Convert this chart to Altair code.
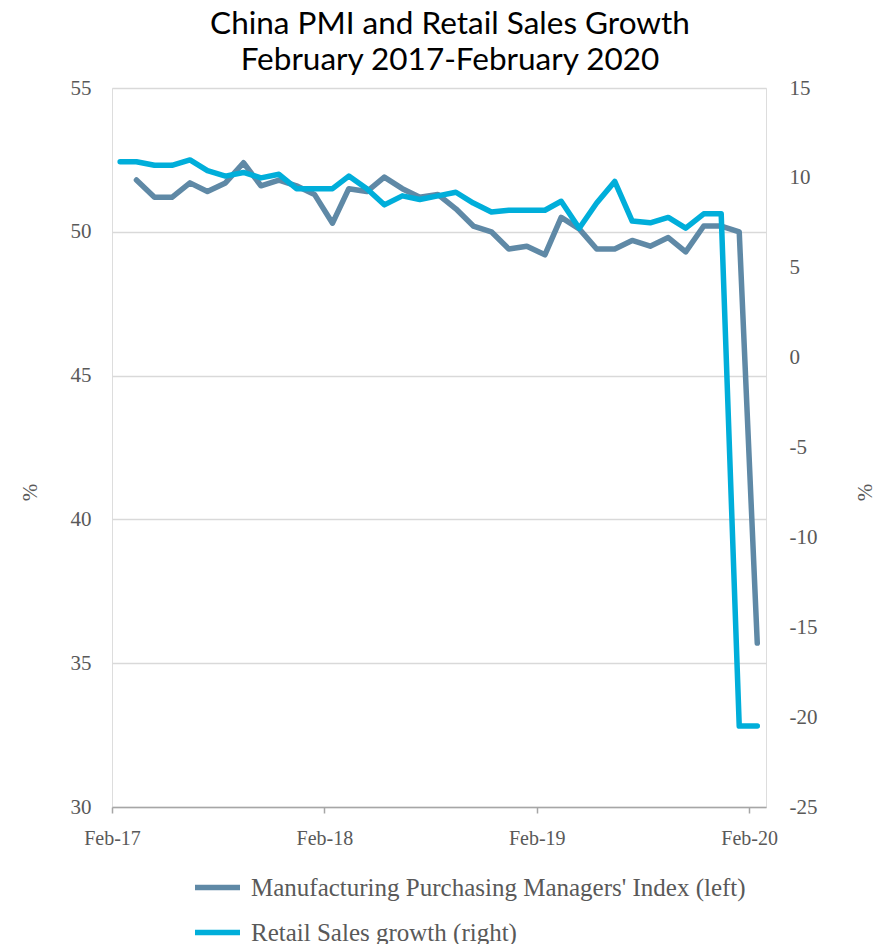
import altair as alt
import pandas as pd

# Monthly observations, Feb 2017 .. Feb 2020 (plotted mid-month)
months = [f"{y}-{m:02d}-15T00:00:00" for y in (2017, 2018, 2019, 2020) for m in range(1, 13)
          if (y, m) >= (2017, 2) and (y, m) <= (2020, 2)]

pmi = [None, 51.8, 51.2, 51.2, 51.7, 51.4, 51.7, 52.4, 51.6, 51.8, 51.6,
       51.3, 50.3, 51.5, 51.4, 51.9, 51.5, 51.2, 51.3, 50.8, 50.2, 50.0, 49.4,
       49.5, 49.2, 50.5, 50.1, 49.4, 49.4, 49.7, 49.5, 49.8, 49.3, 50.2, 50.2,
       50.0, 35.7]

retail = [10.9, 10.9, 10.7, 10.7, 11.0, 10.4, 10.1, 10.3, 10.0, 10.2, 9.4,
          9.4, 9.4, 10.1, 9.4, 8.5, 9.0, 8.8, 9.0, 9.2, 8.6, 8.1, 8.2,
          8.2, 8.2, 8.7, 7.2, 8.6, 9.8, 7.6, 7.5, 7.8, 7.2, 8.0, 8.0,
          -20.5, -20.5]

series_names = ["Manufacturing Purchasing Managers' Index (left)", "Retail Sales growth (right)"]
colors = ["#5F89A6", "#00AEDA"]
left_ticks = [30, 35, 40, 45, 50, 55]
right_ticks = [-25, -20, -15, -10, -5, 0, 5, 10, 15]
title_lines = ["China PMI and Retail Sales Growth", "February 2017-February 2020"]

rows = []
for d, p, r in zip(months, pmi, retail):
    if p is not None:
        rows.append({"date": d, "series": series_names[0], "side": "left", "value": p})
    rows.append({"date": d, "series": series_names[1], "side": "right", "value": r})
df = pd.DataFrame(rows)

SERIF = "Liberation Serif"
GRAY = "#595959"

x_enc = alt.X(
    "date:T",
    scale=alt.Scale(domain=[alt.DateTime(year=2017, month=2, date=1),
                            alt.DateTime(year=2020, month=3, date=1)]),
    axis=alt.Axis(
        values=[alt.DateTime(year=y, month=2, date=1) for y in (2017, 2018, 2019, 2020)],
        format="%b-%y", title=None, grid=False,
        domainColor="#A6A6A6", domainWidth=1.5, tickColor="#A6A6A6", tickWidth=1.5,
        tickSize=6, labelFont=SERIF, labelFontSize=20, labelColor=GRAY,
        labelPadding=15, labelFlush=False, labelOverlap=False,
    ),
)

color_enc = alt.Color(
    "series:N",
    scale=alt.Scale(domain=series_names, range=colors),
    legend=alt.Legend(
        title=None, orient="none", legendX=80, legendY=774, direction="vertical",
        symbolType="stroke", symbolStrokeWidth=5.5, symbolSize=2025,
        labelFont=SERIF, labelFontSize=25, labelColor=GRAY, labelOffset=8,
        labelLimit=800, rowPadding=6,
    ),
)

line_kw = dict(strokeWidth=5.5, strokeCap="round", strokeJoin="round")

neg_label = "datum.value < 0 ? '-' + abs(datum.value) : '' + datum.value"

left = alt.Chart(df).transform_filter(alt.datum.side == "left").mark_line(**line_kw).encode(
    x=x_enc,
    y=alt.Y("value:Q", scale=alt.Scale(domain=[30, 55], nice=False, zero=False),
            axis=alt.Axis(values=left_ticks, title="%", orient="left", grid=True,
                          gridColor="#D9D9D9", gridWidth=1.5, domain=False, ticks=False,
                          labelFont=SERIF, labelFontSize=21, labelColor=GRAY, labelPadding=21,
                          titleFont=SERIF, titleFontSize=21, titleColor=GRAY,
                          titleFontWeight="normal", titleAngle=270, titleX=-82, titleY=404,
                          titleAlign="center", titleBaseline="middle")),
    color=color_enc,
)

right = alt.Chart(df).transform_filter(alt.datum.side == "right").mark_line(**line_kw).encode(
    x=x_enc,
    y=alt.Y("value:Q", scale=alt.Scale(domain=[-25, 15], nice=False, zero=False),
            axis=alt.Axis(values=right_ticks, title="%", orient="right", grid=False,
                          domain=False, ticks=False, labelExpr=neg_label,
                          labelFont=SERIF, labelFontSize=21, labelColor=GRAY, labelPadding=23,
                          titleFont=SERIF, titleFontSize=21, titleColor=GRAY,
                          titleFontWeight="normal", titleAngle=270, titleX=99, titleY=404,
                          titleAlign="center", titleBaseline="middle")),
    color=color_enc,
)

chart = alt.layer(left, right).resolve_scale(y="independent").properties(
    width=654, height=719,
    title=alt.TitleParams(text=title_lines, font="Lato", fontSize=31.5, fontWeight="normal",
                          color="#000000", anchor="middle", dx=11, offset=1, lineHeight=36),
    autosize=alt.AutoSizeParams(type="none"),
    padding={"left": 112, "top": 88, "right": 121, "bottom": 137},
).configure_view(stroke=None).configure(background="white")

chart.save("out.html", embed_options={"renderer": "svg", "actions": False})
